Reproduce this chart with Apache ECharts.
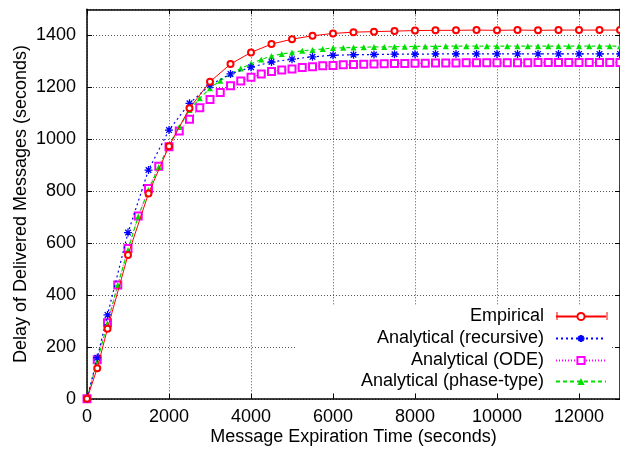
<!DOCTYPE html>
<html>
<head>
<meta charset="utf-8">
<script src="https://cdn.jsdelivr.net/npm/echarts@6/dist/echarts.min.js"></script>
<style>
html,body{margin:0;padding:0;background:#fff;}
#chart{width:620px;height:449px;}
</style>
</head>
<body>
<div id="chart"></div>
<script>
// ---- data ----
const xCoarse = [0, 250, 500, 1000, 1500, 2000, 2500, 3000, 3500, 4000, 4500, 5000, 5500, 6000,
  6500, 7000, 7500, 8000, 8500, 9000, 9500, 10000, 10500, 11000, 11500, 12000, 12500, 13000];
const empirical = [0, 118, 270, 554, 791, 973, 1119, 1221, 1289, 1334, 1366, 1385, 1398, 1407,
  1412, 1414, 1416, 1418, 1419, 1419, 1420, 1419, 1420, 1419, 1420, 1420, 1420, 1420];
const recursive = [0, 158, 323, 640, 881, 1035, 1138, 1208, 1251, 1277, 1297, 1308, 1317, 1323,
  1325, 1326, 1327, 1327, 1328, 1328, 1328, 1328, 1328, 1328, 1328, 1328, 1328, 1328];

const xFine = [0, 250, 500, 750, 1000, 1250, 1500, 1750, 2000, 2250, 2500, 2750, 3000, 3250, 3500, 3750,
  4000, 4250, 4500, 4750, 5000, 5250, 5500, 5750, 6000, 6250, 6500, 6750, 7000, 7250, 7500, 7750,
  8000, 8250, 8500, 8750, 9000, 9250, 9500, 9750, 10000, 10250, 10500, 10750, 11000, 11250, 11500,
  11750, 12000, 12250, 12500, 12750, 13000];
const ode = [0, 150, 293, 438, 579, 704, 810, 896, 971, 1031, 1077, 1121, 1153, 1180, 1206, 1224,
  1238, 1251, 1260, 1266, 1270, 1276, 1279, 1283, 1284, 1286, 1287, 1288, 1289, 1290, 1291, 1291,
  1292, 1292, 1293, 1293, 1293, 1294, 1294, 1294, 1294, 1294, 1294, 1294, 1295, 1295, 1295,
  1295, 1295, 1295, 1295, 1295, 1295];
const phaseType = [0, 145, 291, 438, 573, 702, 804, 893, 977, 1047, 1112, 1157, 1196, 1225, 1251, 1272,
  1290, 1307, 1320, 1328, 1334, 1340, 1343, 1347, 1351, 1352, 1353, 1354, 1355, 1355, 1356, 1356,
  1357, 1357, 1357, 1358, 1358, 1358, 1358, 1358, 1358, 1358, 1358, 1358, 1358, 1358, 1358,
  1358, 1358, 1358, 1358, 1358, 1358];

const seriesNames = ['Empirical', 'Analytical (recursive)', 'Analytical (ODE)', 'Analytical (phase-type)'];
const xTicks = { min: 0, max: 13000, interval: 2000 };
const yTicks = { min: 0, max: 1500, interval: 200 };
const xTitle = 'Message Expiration Time (seconds)';
const yTitle = 'Delay of Delivered Messages (seconds)';

function pairs(xs, ys) { return xs.map((x, i) => [x, ys[i]]); }

const FONT = "'Liberation Sans', Arial, Helvetica, sans-serif";
const gridLine = { show: true, lineStyle: { color: '#555', type: [1, 2], width: 1 } };
const axisLine = { show: true, onZero: false, lineStyle: { color: '#000', width: 1.5 } };
const plain = v => String(v);

const chart = echarts.init(document.getElementById('chart'), null, { renderer: 'canvas' });

function legendAt(name, top) {
  return {
    data: [name], right: 13, top: top, orient: 'vertical', align: 'right',
    itemWidth: 50, itemHeight: 9, padding: 0, selectedMode: false,
    textStyle: { fontFamily: FONT, fontSize: 18, color: '#000', padding: [0, 7, 0, 0], lineHeight: 21 }
  };
}

const option = {
  animation: false,
  backgroundColor: '#fff',
  textStyle: { fontFamily: FONT },
  grid: { left: 87, right: 0, top: 9.3, bottom: 50.2, containLabel: false, outerBoundsMode: 'none' },
  xAxis: [{
    type: 'value', min: xTicks.min, max: xTicks.max, interval: xTicks.interval,
    name: xTitle, nameLocation: 'middle', nameGap: 29, nameMoveOverlap: false,
    nameTextStyle: { fontFamily: FONT, fontSize: 18, color: '#000' },
    axisLine: axisLine,
    axisTick: { show: true, inside: true, length: 5, lineStyle: { color: '#000' } },
    axisLabel: { fontFamily: FONT, fontSize: 18, color: '#000', margin: 9, showMaxLabel: false, formatter: plain },
    splitLine: gridLine
  }, {
    type: 'value', position: 'top', min: xTicks.min, max: xTicks.max, interval: xTicks.interval,
    axisLine: axisLine,
    axisTick: { show: true, inside: true, length: 5, lineStyle: { color: '#000' } },
    axisLabel: { show: false }, splitLine: { show: false }
  }],
  yAxis: [{
    type: 'value', min: yTicks.min, max: yTicks.max, interval: yTicks.interval,
    name: yTitle, nameLocation: 'middle', nameGap: 57, nameMoveOverlap: false,
    nameTextStyle: { fontFamily: FONT, fontSize: 18, color: '#000' },
    axisLine: axisLine,
    axisTick: { show: true, inside: true, length: 5, lineStyle: { color: '#000' } },
    axisLabel: { fontFamily: FONT, fontSize: 18, color: '#000', margin: 11, showMaxLabel: false, formatter: plain },
    splitLine: gridLine
  }, {
    type: 'value', position: 'right', min: yTicks.min, max: yTicks.max, interval: yTicks.interval,
    axisLine: axisLine,
    axisTick: { show: true, inside: true, length: 5, lineStyle: { color: '#000' } },
    axisLabel: { show: false }, splitLine: { show: false }
  }],
  legend: [
    legendAt(seriesNames[0], 306),
    legendAt(seriesNames[1], 328),
    legendAt(seriesNames[2], 350),
    legendAt(seriesNames[3], 371)
  ],
  graphic: [
    { type: 'rect', z: 1, silent: true, shape: { x: 297, y: 305, width: 313, height: 88 }, style: { fill: '#fff' } },
    { type: 'line', z: 10, silent: true, shape: { x1: 557, y1: 312, x2: 557, y2: 320 }, style: { stroke: '#ff0000', lineWidth: 1 } },
    { type: 'line', z: 10, silent: true, shape: { x1: 607, y1: 312, x2: 607, y2: 320 }, style: { stroke: '#ff0000', lineWidth: 1 } }
  ],
  series: [
    {
      name: seriesNames[0], type: 'line', data: pairs(xCoarse, empirical),
      symbol: 'emptyCircle', symbolSize: 6, showAllSymbol: true,
      lineStyle: { color: '#ff0000', width: 1 },
      itemStyle: { color: '#ff0000', borderColor: '#ff0000', borderWidth: 2.8 },
      z: 5
    },
    {
      name: seriesNames[1], type: 'line', data: pairs(xCoarse, recursive),
      symbol: 'path://M5 0 L5 10 M0 5 L10 5 M1.5 1.5 L8.5 8.5 M8.5 1.5 L1.5 8.5',
      symbolSize: 8, showAllSymbol: true,
      lineStyle: { color: '#0000ff', width: 1.2, type: [2, 3] },
      itemStyle: { color: '#0000ff', borderColor: '#0000ff', borderWidth: 1.3 },
      z: 4
    },
    {
      name: seriesNames[2], type: 'line', data: pairs(xFine, ode),
      symbol: 'emptyRect', symbolSize: 7, showAllSymbol: true,
      lineStyle: { color: '#ff00ff', width: 1, type: [1, 2] },
      itemStyle: { color: '#ff00ff', borderColor: '#ff00ff', borderWidth: 1 },
      z: 3
    },
    {
      name: seriesNames[3], type: 'line', data: pairs(xFine, phaseType),
      symbol: 'triangle', symbolSize: 6, showAllSymbol: true,
      lineStyle: { color: '#00e000', width: 1.2, type: [4, 3] },
      itemStyle: { color: '#00e000' },
      z: 3
    }
  ]
};
chart.setOption(option);
</script>
</body>
</html>
